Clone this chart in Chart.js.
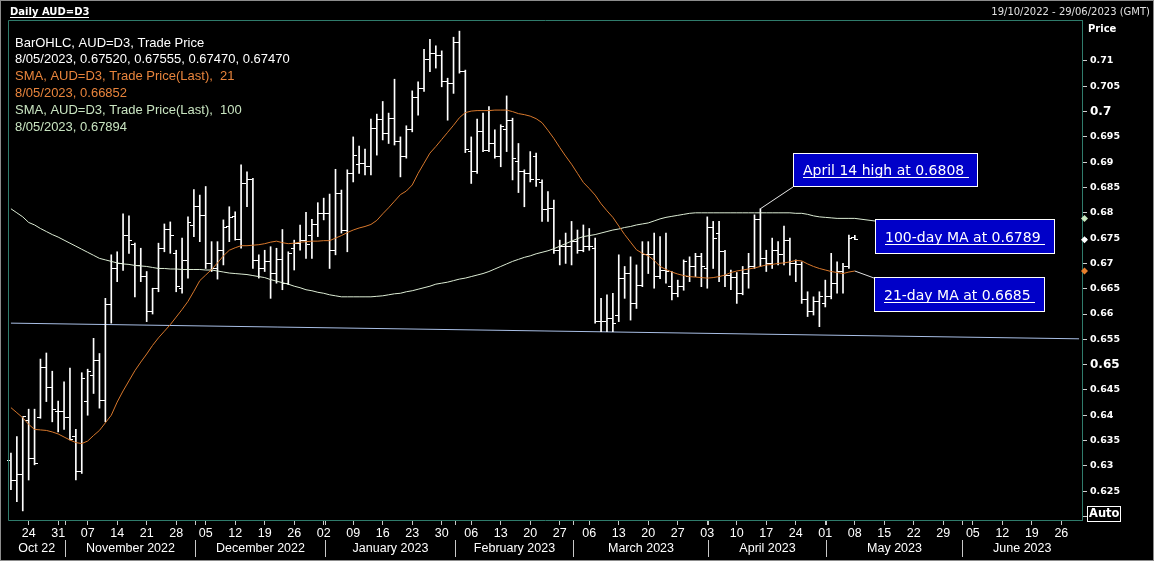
<!DOCTYPE html>
<html><head><meta charset="utf-8">
<script src="https://cdn.jsdelivr.net/npm/chart.js@4.4.0/dist/chart.umd.min.js"></script>
<style>html,body{margin:0;padding:0;background:#000;overflow:hidden}#wrap{width:1154px;height:561px}</style>
</head><body><div id="wrap"><canvas id="c" width="1154" height="561"></canvas></div>
<script>
// ---------- data ----------
const startDate = '2022-10-19';
const endDate = '2023-06-29';
const monthKeys = ['2022-10','2022-11','2022-12','2023-01','2023-02','2023-03','2023-04','2023-05','2023-06'];
const monthLabels = ['Oct 22','November 2022','December 2022','January 2023','February 2023','March 2023','April 2023','May 2023','June 2023'];
const yTickStep = 0.005;

const opens = [
.6311,.6272,.6282,.6389,.6314,.6395,.6495,.6455,.6407,.6407,
.6395,.6358,.6288,.6427,.6478,.6508,.6430,.6619,.6690,.6700,
.6756,.6738,.6695,.6674,.6605,.6651,.6730,.6767,.6720,.6651,
.6705,.6775,.6813,.6794,.6700,.6690,.6726,.6773,.6792,.6748,
.6858,.6865,.6705,.6690,.6703,.6680,.6707,.6661,.6730,.6740,
.6746,.6756,.6776,.6799,.6799,.6726,.6839,.6765,.6877,.6895,
.6898,.6891,.6967,.6985,.6957,.6987,.6941,.6911,.6964,.7028,
.7046,.7103,.7115,.7110,.7059,.7056,.7136,.7079,.6921,.6881,
.6960,.6924,.6937,.6911,.6964,.6983,.6901,.6881,.6878,.6912,
.6860,.6806,.6809,.6726,.6733,.6733,.6743,.6726,.6733,.6730,
.6585,.6585,.6592,.6598,.6671,.6680,.6621,.6657,.6717,.6717,
.6674,.6687,.6654,.6641,.6654,.6674,.6694,.6713,.6690,.6770,
.6760,.6723,.6677,.6673,.6641,.6680,.6694,.6786,.6710,.6700,
.6726,.6717,.6746,.6700,.6697,.6628,.6605,.6624,.6621,.6634,
.6661,.6684,.6694,.6752];
const highs = [
.6325,.6358,.6397,.6412,.6412,.6511,.6523,.6487,.6428,.6466,
.6493,.6372,.6484,.6491,.6552,.6522,.6631,.6717,.6723,.6798,
.6794,.6740,.6730,.6684,.6651,.6740,.6778,.6782,.6726,.6750,
.6792,.6846,.6835,.6852,.6743,.6743,.6786,.6812,.6802,.6895,
.6881,.6868,.6717,.6726,.6733,.6730,.6767,.6723,.6746,.6776,
.6801,.6787,.6820,.6829,.6837,.6886,.6845,.6885,.6950,.6932,
.6926,.6985,.6995,.7020,.6997,.7064,.6950,.6972,.7041,.7059,
.7123,.7143,.7130,.7120,.7066,.7147,.7159,.7082,.6950,.6985,
.6997,.7010,.6964,.6974,.7031,.6987,.6937,.6885,.6921,.6918,
.6865,.6842,.6825,.6746,.6760,.6783,.6766,.6776,.6769,.6750,
.6631,.6638,.6641,.6717,.6694,.6713,.6697,.6743,.6743,.6760,
.6753,.6760,.6684,.6667,.6707,.6713,.6720,.6720,.6792,.6783,
.6783,.6726,.6687,.6682,.6694,.6720,.6796,.6808,.6726,.6750,
.6743,.6774,.6750,.6707,.6703,.6644,.6634,.6644,.6667,.6720,
.6703,.6700,.6756,.67555];
const lows = [
.6253,.6229,.6211,.6272,.6302,.6394,.6427,.6387,.6367,.6372,
.6351,.6272,.6285,.6400,.6443,.6414,.6387,.6582,.6664,.6686,
.6720,.6634,.6664,.6585,.6600,.6644,.6723,.6720,.6644,.6641,
.6671,.6753,.6743,.6690,.6684,.6669,.6697,.6743,.6746,.6730,
.6812,.6690,.6671,.6684,.6631,.6661,.6648,.6658,.6687,.6726,
.6710,.6710,.6753,.6786,.6690,.6717,.6760,.6723,.6861,.6878,
.6875,.6875,.6914,.6944,.6937,.6934,.6871,.6908,.6960,.6993,
.7040,.7079,.7086,.7049,.6983,.7036,.7076,.6919,.6858,.6878,
.6921,.6921,.6908,.6891,.6921,.6865,.6840,.6812,.6861,.6852,
.6783,.6783,.6720,.6697,.6700,.6697,.6720,.6723,.6726,.6582,
.6565,.6565,.6565,.6585,.6631,.6588,.6611,.6654,.6680,.6651,
.6670,.6661,.6628,.6634,.6647,.6664,.6674,.6654,.6651,.6690,
.6664,.6654,.6648,.6621,.6638,.6651,.6690,.6694,.6684,.6690,
.6697,.6697,.6677,.6664,.6621,.6595,.6598,.6575,.6614,.6630,
.6641,.6641,.6690,.6747];
const closes = [
.6272,.6282,.6397,.6314,.6305,.6495,.6455,.6412,.6407,.6395,
.6352,.6288,.6472,.6486,.6508,.6430,.6619,.6690,.6700,.6756,
.6746,.6695,.6674,.6605,.6651,.6730,.6767,.6756,.6654,.6705,
.6780,.6813,.6794,.6700,.6690,.6726,.6771,.6791,.6748,.6858,
.6865,.6705,.6690,.6703,.6680,.6707,.6661,.6720,.6740,.6746,
.6738,.6776,.6799,.6799,.6726,.6839,.6765,.6877,.6914,.6898,
.6891,.6967,.6985,.6957,.6987,.6941,.6911,.6964,.7028,.7046,
.7103,.7115,.7110,.7059,.7056,.7136,.7079,.6925,.6881,.6960,
.6924,.6937,.6911,.6970,.6983,.6908,.6881,.6878,.6865,.6865,
.6806,.6809,.6726,.6733,.6733,.6743,.6726,.6733,.6733,.6585,
.6585,.6592,.6582,.6671,.6680,.6621,.6657,.6717,.6717,.6674,
.6687,.6684,.6641,.6654,.6703,.6694,.6713,.6694,.6770,.6750,
.6723,.6677,.6673,.6641,.6680,.6694,.6786,.6710,.6700,.6726,
.6717,.6746,.6700,.6697,.6628,.6605,.6624,.6634,.6634,.6661,
.6684,.6694,.6750,.6747];
const sma21 = [
.6415,.6405,.6395,.6382,.6372,.6371,.6370,.6367,.6363,.6357,
.6351,.6346,.6344,.6349,.6360,.6370,.6385,.6400,.6426,.6448,
.6468,.6488,.6505,.6521,.6538,.6553,.6566,.6579,.6594,.6609,
.6625,.6645,.6666,.6677,.6688,.6701,.6715,.6726,.6731,.6735,
.6735,.6736,.6737,.6739,.6742,.6744,.6741,.6739,.6740,.6742,
.6743,.6744,.6744,.6745,.6745,.6750,.6755,.6761,.6766,.6770,
.6773,.6777,.6785,.6798,.6810,.6823,.6836,.6843,.6855,.6878,
.6898,.6918,.6931,.6945,.6959,.6973,.6988,.6998,.7001,.7002,
.7002,.7002,.7003,.7003,.7003,.7000,.6996,.6994,.6991,.6986,
.6978,.6963,.6947,.6929,.6912,.6896,.6878,.6860,.6848,.6835,
.6818,.6804,.6791,.6774,.6757,.6742,.6727,.6720,.6715,.6706,
.6694,.6688,.6683,.6679,.6676,.6674,.6673,.6672,.6671,.6672,
.6674,.6677,.6682,.6685,.6687,.6689,.6691,.6694,.6697,.6698,
.6700,.6701,.6703,.6706,.6705,.6699,.6694,.6690,.6687,.6684,
.6682,.6680,.6683,.6685];
const sma100 = [
.6808,.6800,.6792,.6781,.6776,.6769,.6763,.6757,.6752,.6746,
.6740,.6734,.6728,.6722,.6716,.6710,.6707,.6704,.6701,.6699,
.6698,.6696,.6695,.6694,.6692,.6690,.6690,.6689,.6689,.6688,
.6688,.6688,.6688,.6687,.6687,.6685,.6683,.6681,.6680,.6679,
.6678,.6676,.6674,.6672,.6668,.6665,.6662,.6659,.6655,.6652,
.6648,.6646,.6643,.6641,.6638,.6636,.6634,.6634,.6634,.6634,
.6634,.6634,.6635,.6636,.6638,.6640,.6641,.6644,.6646,.6649,
.6652,.6655,.6659,.6661,.6663,.6666,.6669,.6671,.6674,.6677,
.6680,.6684,.6689,.6694,.6699,.6704,.6708,.6712,.6715,.6719,
.6722,.6725,.6729,.6734,.6739,.6744,.6749,.6753,.6755,.6757,
.6760,.6763,.6766,.6768,.6771,.6773,.6776,.6778,.6780,.6784,
.6788,.6791,.6793,.6795,.6797,.6799,.6800,.6800,.6800,.6800,
.6800,.6800,.6800,.6800,.6800,.6800,.6800,.6800,.6800,.6800,
.6800,.6800,.6800,.6799,.6799,.6797,.6794,.6792,.6791,.6790,
.6789,.6789,.6789,.6789];
const trendStart = 0.6582;
const trendEnd = 0.6551;

const legendLines = [
  ['BarOHLC, AUD=D3, Trade Price', '#ffffff'],
  ['8/05/2023, 0.67520, 0.67555, 0.67470, 0.67470', '#ffffff'],
  ['SMA, AUD=D3, Trade Price(Last),  21', '#e8843c'],
  ['8/05/2023, 0.66852', '#e8843c'],
  ['SMA, AUD=D3, Trade Price(Last),  100', '#c8e4c0'],
  ['8/05/2023, 0.67894', '#c8e4c0']
];
const noteTexts = ['April 14 high at 0.6808', '100-day MA at 0.6789', '21-day MA at 0.6685'];
const noteHighIndex = 127;

// ---------- helpers ----------
function tradingDays(s, e) {
  const out = [];
  let d = new Date(s + 'T00:00:00Z');
  const end = new Date(e + 'T00:00:00Z');
  while (d <= end) {
    const w = d.getUTCDay();
    if (w !== 0 && w !== 6) out.push(d.toISOString().slice(0, 10));
    d = new Date(d.getTime() + 86400000);
  }
  return out;
}
const dates = tradingDays(startDate, endDate);
const isMonday = s => s && new Date(s + 'T00:00:00Z').getUTCDay() === 1;
const pad = a => a.concat(new Array(Math.max(0, dates.length - a.length)).fill(null));
const hl = pad(highs.map((h, i) => [lows[i], h]));
const trend = dates.map((d, i) => i === 0 ? trendStart : (i === dates.length - 1 ? trendEnd : null));

function tickImg(side) {
  const c = document.createElement('canvas');
  c.width = 7; c.height = 1;
  const g = c.getContext('2d');
  g.fillStyle = '#ffffff';
  g.fillRect(side < 0 ? 0 : 4, 0, 3, 1);
  return c;
}
const openImg = tickImg(-1), closeImg = tickImg(1);

const C = {
  frame: '#2f7b6b', ma21: '#d8782c', ma100: '#dcecd4', trend: '#a9bfe6',
  box: '#0000c8'
};
const boxes = [
  {x: 793, y: 153, w: 185, h: 34},
  {x: 875, y: 219, w: 180, h: 35},
  {x: 874, y: 277, w: 171, h: 35}
];

function underlineText(ctx, txt, x, y) {
  ctx.fillText(txt, x, y);
  const w = ctx.measureText(txt).width;
  ctx.fillRect(Math.round(x), Math.round(y) + 2, Math.round(w), 1);
}

const deco = {
  id: 'deco',
  beforeDraw(chart) {
    const c = chart.ctx; c.save(); c.fillStyle = '#000'; c.fillRect(0, 0, chart.width, chart.height); c.restore();
  },
  beforeDatasetsDraw(chart) { chart.ctx.imageSmoothingEnabled = false; },
  afterDraw(chart) {
    const ctx = chart.ctx, a = chart.chartArea, xs = chart.scales.x, ys = chart.scales.y;
    ctx.save();
    ctx.imageSmoothingEnabled = true;
    // frame
    ctx.strokeStyle = C.frame; ctx.lineWidth = 1;
    ctx.beginPath();
    ctx.moveTo(a.left + 0.5, a.bottom + 0.5); ctx.lineTo(a.left + 0.5, a.top + 0.5); ctx.lineTo(a.right + 0.5, a.top + 0.5);
    ctx.moveTo(a.left + 0.5, a.bottom + 0.5); ctx.lineTo(a.right + 0.5, a.bottom + 0.5);
    ctx.stroke();
    ctx.strokeStyle = '#8c8c8c';
    ctx.strokeRect(0.5, 0.5, chart.width - 1, chart.height - 1);

    // title & range
    ctx.fillStyle = '#ffffff'; ctx.textBaseline = 'alphabetic'; ctx.textAlign = 'left';
    ctx.font = 'bold 10px "DejaVu Sans"';
    underlineText(ctx, 'Daily AUD=D3', 10, 15);
    ctx.font = '10px "DejaVu Sans"'; ctx.textAlign = 'right'; ctx.fillStyle = '#e0e0e0';
    ctx.fillText(dates[0].split('-').reverse().join('/') + ' - ' + dates[dates.length - 1].split('-').reverse().join('/') + ' (GMT)', 1150, 15);

    // legend
    ctx.textAlign = 'left'; ctx.textBaseline = 'middle';
    ctx.font = '13px "Liberation Sans"';
    legendLines.forEach((l, i) => { ctx.fillStyle = l[1]; ctx.fillText(l[0], 15, 43 + i * 16.9); });

    // price title and Auto
    ctx.fillStyle = '#ffffff'; ctx.font = 'bold 10px "DejaVu Sans"';
    ctx.fillText('Price', 1088, 29);
    ctx.font = 'bold 11.5px "DejaVu Sans"';
    const aw = ctx.measureText('Auto').width;
    ctx.fillText('Auto', 1089, 514);
    ctx.strokeStyle = '#ffffff';
    ctx.strokeRect(1087.5, 506.5, Math.round(aw) + 3, 15);

    // right-axis markers
    const n = highs.length - 1;
    const diamond = (yv, col) => {
      const py = ys.getPixelForValue(yv), px = a.right + 2.5;
      ctx.fillStyle = col; ctx.beginPath();
      ctx.moveTo(px, py - 3.5); ctx.lineTo(px + 3.5, py); ctx.lineTo(px, py + 3.5); ctx.lineTo(px - 3.5, py); ctx.closePath(); ctx.fill();
    };
    diamond(sma100[n], '#c8e8c0');
    diamond(closes[n], '#ffffff');
    diamond(sma21[n], '#e8802c');

    // month row
    const firsts = monthKeys.map(k => dates.findIndex(d => d.slice(0, 7) === k));
    const seps = firsts.map((f, i) => i === 0 ? a.left : Math.round(xs.getPixelForValue(f)) + 1.5);
    ctx.strokeStyle = '#c8c8c8'; ctx.lineWidth = 1;
    ctx.beginPath();
    seps.forEach((s, i) => { if (i > 0) { ctx.moveTo(s, 540); ctx.lineTo(s, 557); ctx.moveTo(s, 521); ctx.lineTo(s, 525); } });
    ctx.stroke();
    ctx.fillStyle = '#ffffff'; ctx.textAlign = 'center'; ctx.textBaseline = 'middle';
    ctx.font = '12.5px "Liberation Sans"';
    monthLabels.forEach((m, i) => {
      const l = seps[i], r = i < seps.length - 1 ? seps[i + 1] : a.right;
      ctx.fillText(m, (l + r) / 2, 549);
    });

    // annotations
    const anchors = [
      [xs.getPixelForValue(noteHighIndex), ys.getPixelForValue(highs[noteHighIndex]), boxes[0].x, boxes[0].y + boxes[0].h, '#e8e8e8'],
      [xs.getPixelForValue(n), ys.getPixelForValue(sma100[n]), boxes[1].x, boxes[1].y + 2, C.ma100],
      [xs.getPixelForValue(n), ys.getPixelForValue(sma21[n]), boxes[2].x, boxes[2].y + 1, '#e0e0e0']
    ];
    anchors.forEach(an => {
      ctx.strokeStyle = an[4]; ctx.beginPath(); ctx.moveTo(an[0], an[1]); ctx.lineTo(an[2], an[3]); ctx.stroke();
    });
    ctx.textAlign = 'left'; ctx.font = '14px "DejaVu Sans"';
    boxes.forEach((b, i) => {
      ctx.fillStyle = C.box; ctx.fillRect(b.x, b.y, b.w, b.h);
      ctx.strokeStyle = '#ffffff'; ctx.strokeRect(b.x + 0.5, b.y + 0.5, b.w - 1, b.h - 1);
      ctx.fillStyle = '#ffffff';
      ctx.textBaseline = 'alphabetic';
      underlineText(ctx, noteTexts[i] + ' ', b.x + 10, b.y + b.h / 2 + 5);
    });
    ctx.restore();
  }
};

new Chart(document.getElementById('c'), {
  type: 'bar',
  data: {
    labels: dates,
    datasets: [
      {type: 'line', label: 'trend', data: trend, borderColor: C.trend, borderWidth: 1, pointRadius: 0, spanGaps: true, order: 5},
      {type: 'bar', label: 'HL', data: hl, backgroundColor: '#ffffff', barThickness: 1, borderWidth: 0, borderSkipped: false, order: 4},
      {type: 'line', label: 'open', data: pad(opens), showLine: false, pointStyle: openImg, pointRadius: 1, pointHoverRadius: 1, order: 3},
      {type: 'line', label: 'close', data: pad(closes), showLine: false, pointStyle: closeImg, pointRadius: 1, pointHoverRadius: 1, order: 3},
      {type: 'line', label: 'SMA100', data: pad(sma100), borderColor: C.ma100, borderWidth: 1, pointRadius: 0, tension: 0, order: 2},
      {type: 'line', label: 'SMA21', data: pad(sma21), borderColor: C.ma21, borderWidth: 1, pointRadius: 0, tension: 0, order: 1}
    ]
  },
  options: {
    responsive: false, animation: false, devicePixelRatio: 1,
    events: [],
    layout: {padding: {left: 8, top: 20, right: 0, bottom: 0}},
    plugins: {legend: {display: false}, tooltip: {enabled: false}},
    scales: {
      x: {
        type: 'category', offset: true,
        grid: {display: true, offset: false, drawOnChartArea: false, drawTicks: true, tickLength: 5,
          tickColor: c => isMonday(dates[c.index]) ? '#c8c8c8' : 'rgba(0,0,0,0)', color: 'rgba(0,0,0,0)'},
        border: {display: false},
        ticks: {autoSkip: false, maxRotation: 0, minRotation: 0, padding: 1, color: '#ffffff',
          font: {family: 'Liberation Sans', size: 12.5},
          callback: (v, i) => isMonday(dates[i]) ? dates[i].slice(8, 10) : ''},
        afterFit(s) { s.height = 41; }
      },
      y: {
        type: 'linear', position: 'right', min: 0.6193, max: 0.7181,
        grid: {drawOnChartArea: false, drawTicks: true, tickLength: 5,
          tickColor: c => (c.tick && c.tick.value > 0.7125) ? 'rgba(0,0,0,0)' : '#d0d0d0'},
        border: {display: true, color: C.frame, width: 1},
        ticks: {stepSize: yTickStep, includeBounds: false, padding: 3, color: '#ffffff',
          font: c => {
            const v = c.tick ? c.tick.value : 0;
            const major = Math.abs(Math.round(v * 20) - v * 20) < 1e-6;
            return {family: 'DejaVu Sans', weight: 'bold', size: major ? 12 : 9.5};
          },
          callback: v => (v > 0.7125 || v < 0.6225) ? '' : String(+v.toFixed(3))},
        afterFit(s) { s.width = 72; }
      }
    }
  },
  plugins: [deco]
});
</script></body></html>
